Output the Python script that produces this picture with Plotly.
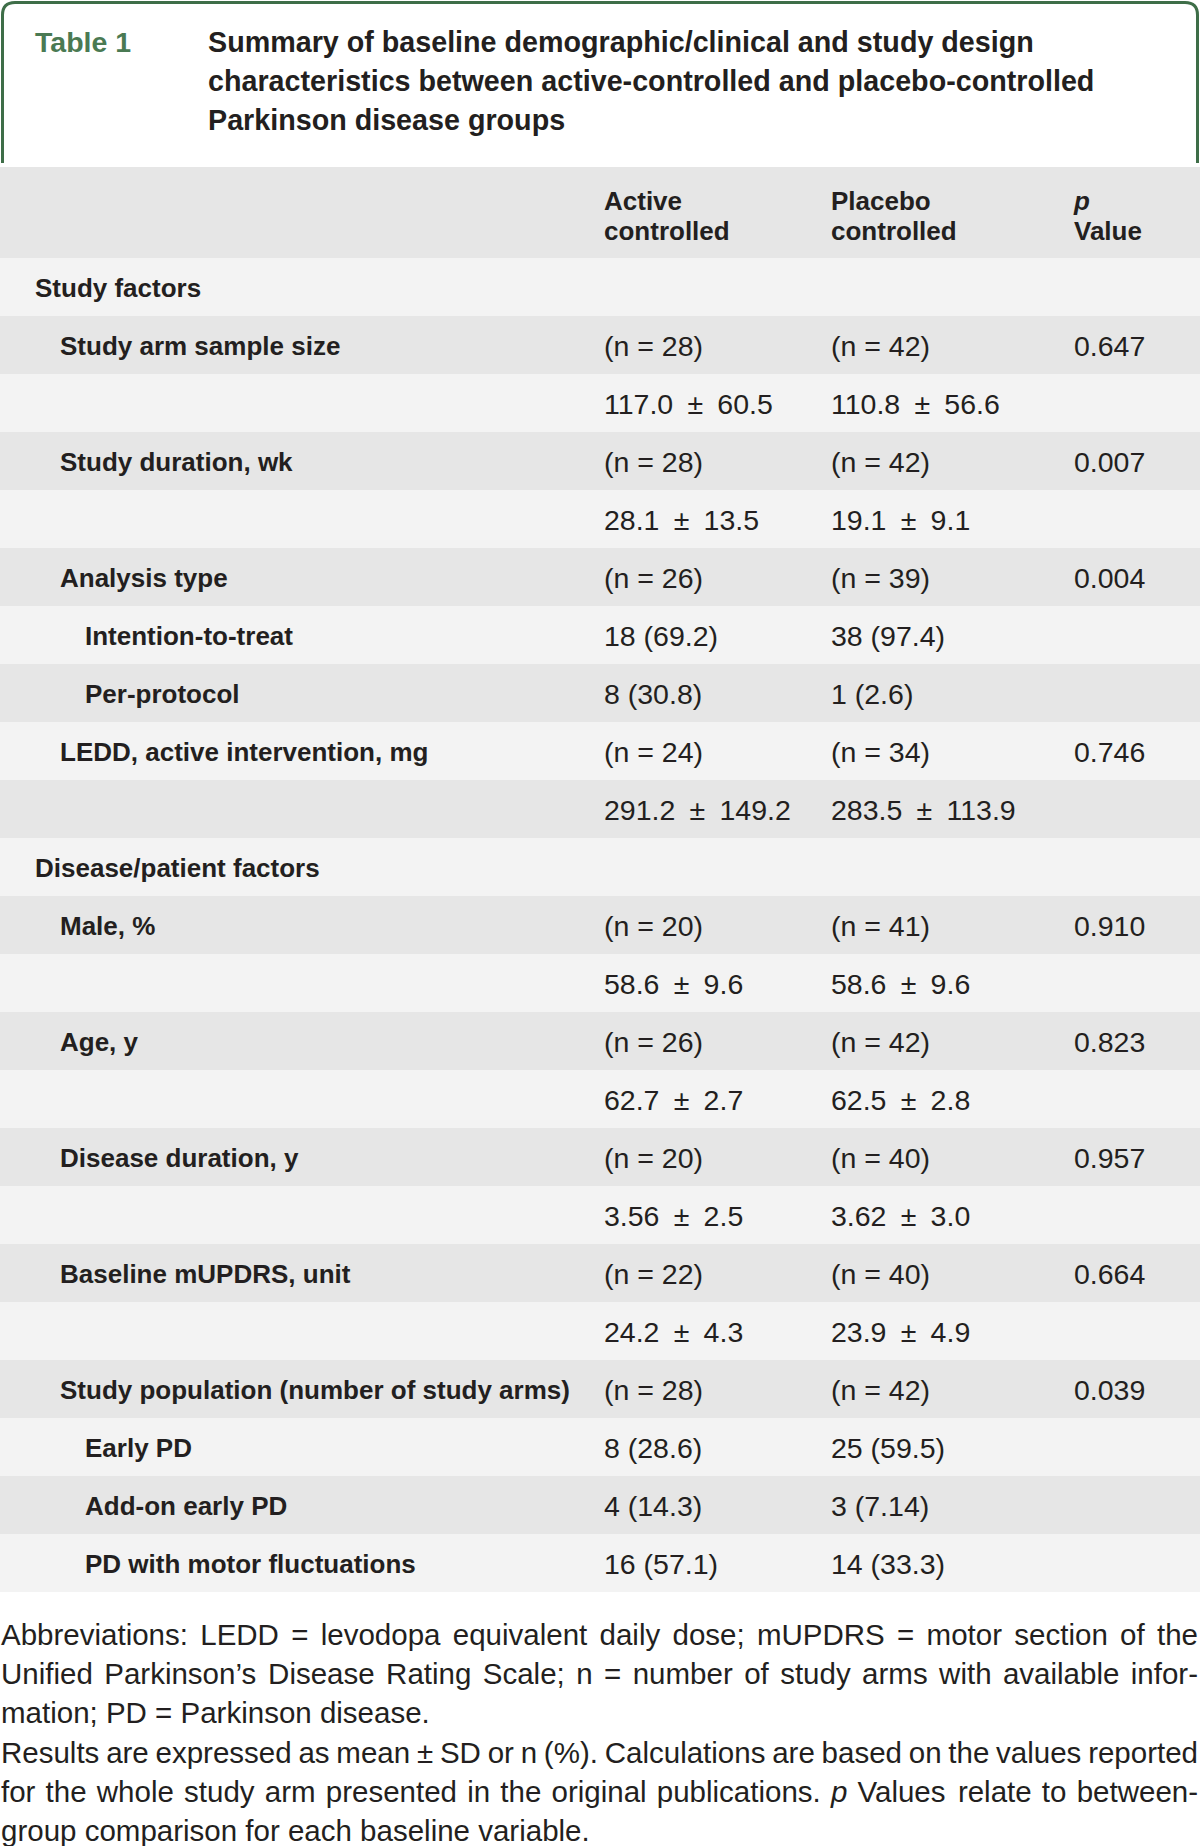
import re
import plotly.graph_objects as go

# ---------------- data ----------------
title_label = "Table 1"
title_lines = [
    "Summary of baseline demographic/clinical and study design",
    "characteristics between active-controlled and placebo-controlled",
    "Parkinson disease groups",
]
header_active = ["Active", "controlled"]
header_placebo = ["Placebo", "controlled"]
header_p = ["<i>p</i>", "Value"]

row_labels = [
    "Study factors",
    "Study arm sample size",
    "",
    "Study duration, wk",
    "",
    "Analysis type",
    "Intention-to-treat",
    "Per-protocol",
    "LEDD, active intervention, mg",
    "",
    "Disease/patient factors",
    "Male, %",
    "",
    "Age, y",
    "",
    "Disease duration, y",
    "",
    "Baseline mUPDRS, unit",
    "",
    "Study population (number of study arms)",
    "Early PD",
    "Add-on early PD",
    "PD with motor fluctuations",
]
row_levels = [0, 1, 1, 1, 1, 1, 2, 2, 1, 1, 0, 1, 1, 1, 1, 1, 1, 1, 1, 1, 2, 2, 2]
active_vals = [
    "", "(n = 28)", "117.0 ± 60.5", "(n = 28)", "28.1 ± 13.5", "(n = 26)",
    "18 (69.2)", "8 (30.8)", "(n = 24)", "291.2 ± 149.2", "", "(n = 20)",
    "58.6 ± 9.6", "(n = 26)", "62.7 ± 2.7", "(n = 20)", "3.56 ± 2.5",
    "(n = 22)", "24.2 ± 4.3", "(n = 28)", "8 (28.6)", "4 (14.3)", "16 (57.1)",
]
placebo_vals = [
    "", "(n = 42)", "110.8 ± 56.6", "(n = 42)", "19.1 ± 9.1", "(n = 39)",
    "38 (97.4)", "1 (2.6)", "(n = 34)", "283.5 ± 113.9", "", "(n = 41)",
    "58.6 ± 9.6", "(n = 42)", "62.5 ± 2.8", "(n = 40)", "3.62 ± 3.0",
    "(n = 40)", "23.9 ± 4.9", "(n = 42)", "25 (59.5)", "3 (7.14)", "14 (33.3)",
]
p_vals = [
    "", "0.647", "", "0.007", "", "0.004", "", "", "0.746", "", "", "0.910",
    "", "0.823", "", "0.957", "", "0.664", "", "0.039", "", "", "",
]
footnote_lines = [
    "Abbreviations: LEDD = levodopa equivalent daily dose; mUPDRS = motor section of the",
    "Unified Parkinson’s Disease Rating Scale; n = number of study arms with available infor-",
    "mation; PD = Parkinson disease.",
    "Results are expressed as mean ± SD or n (%). Calculations are based on the values reported",
    "for the whole study arm presented in the original publications. <i>p</i> Values relate to between-",
    "group comparison for each baseline variable.",
]
footnote_justified = [True, True, False, True, True, False]

# ---------------- layout constants ----------------
W, H = 1200, 1846
GREEN = "#3e6e48"
TEXT = "#231f20"
DARK = "#e6e6e6"
LIGHT = "#f3f3f3"
FONT = "Liberation Sans, Arial, sans-serif"

HEAD_TOP, HEAD_BOT = 167, 258
ROW_H = 58
DY = 3.5  # baseline nudge for visual centring of text
LABEL_X = [35, 60, 85]
COL_X = [604, 831, 1074]
FOOT_SIZE = 29.5
FOOT_Y0, FOOT_DY = 1634, 39.3

# Arial / Liberation Sans advance widths (per 1000 em) for justification
_W = {" ": 278, "(": 333, ")": 333, ",": 278, "-": 333, ".": 278, "/": 278,
      ":": 278, ";": 278, "=": 584, "±": 549, "%": 889, "’": 222}
for c in "0123456789":
    _W[c] = 556
_W.update(dict(zip("ABCDEFGHIJKLMNOPQRSTUVWXYZ",
                   [667, 667, 722, 722, 667, 611, 778, 722, 278, 500, 667, 556, 833,
                    722, 778, 667, 778, 722, 667, 611, 722, 667, 944, 667, 667, 611])))
_W.update(dict(zip("abcdefghijklmnopqrstuvwxyz",
                   [556, 556, 500, 556, 556, 278, 556, 556, 222, 222, 500, 222, 833,
                    556, 556, 556, 556, 333, 500, 278, 556, 500, 722, 500, 500, 500])))


def text_width(s, size):
    plain = re.sub(r"<[^>]+>", "", s)
    return sum(_W.get(ch, 556) for ch in plain) * size / 1000.0


def widen_pm(s):
    # the source typesetting leaves wider gaps around the ± sign
    return s.replace(" ± ", "\u2002±\u2002")


fig = go.Figure()
shapes = []

# title box border
shapes.append(dict(
    type="path",
    path="M 2.5,163 L 2.5,15 Q 2.5,2.5 15,2.5 L 1185,2.5 Q 1197.5,2.5 1197.5,15 L 1197.5,163",
    line=dict(color=GREEN, width=3), xref="x", yref="y", layer="above",
))
# header background
shapes.append(dict(type="rect", x0=0, x1=W, y0=HEAD_TOP, y1=HEAD_BOT,
                   fillcolor=DARK, line=dict(width=0), xref="x", yref="y", layer="below"))
# row backgrounds
for i in range(len(row_labels)):
    y0 = HEAD_BOT + i * ROW_H
    shapes.append(dict(type="rect", x0=0, x1=W, y0=y0, y1=y0 + ROW_H,
                       fillcolor=LIGHT if i % 2 == 0 else DARK,
                       line=dict(width=0), xref="x", yref="y", layer="below"))

# title texts
fig.add_trace(go.Scatter(
    x=[35], y=[41 + DY], text=[title_label], mode="text", textposition="middle right",
    textfont=dict(family=FONT, size=28.5, color="#4a7a53", weight="bold"), hoverinfo="skip"))
fig.add_trace(go.Scatter(
    x=[208] * len(title_lines), y=[41 + DY + 39 * k for k in range(len(title_lines))],
    text=title_lines, mode="text", textposition="middle right",
    textfont=dict(family=FONT, size=28.7, color=TEXT, weight="bold"), hoverinfo="skip"))

# header texts
hx, hy, ht = [], [], []
for col, lines in zip(COL_X, [header_active, header_placebo, header_p]):
    for k, t in enumerate(lines):
        hx.append(col)
        hy.append(200 + DY + 30 * k)
        ht.append(t)
fig.add_trace(go.Scatter(
    x=hx, y=hy, text=ht, mode="text", textposition="middle right",
    textfont=dict(family=FONT, size=26, color=TEXT, weight="bold"), hoverinfo="skip"))

# row labels
ys = [HEAD_BOT + i * ROW_H + ROW_H / 2 + DY for i in range(len(row_labels))]
fig.add_trace(go.Scatter(
    x=[LABEL_X[l] for l in row_levels], y=ys, text=row_labels, mode="text",
    textposition="middle right",
    textfont=dict(family=FONT, size=26, color=TEXT, weight="bold"), hoverinfo="skip"))

# value columns
for col, vals in zip(COL_X, [active_vals, placebo_vals, p_vals]):
    fig.add_trace(go.Scatter(
        x=[col] * len(vals), y=ys, text=[widen_pm(v) for v in vals], mode="text",
        textposition="middle right",
        textfont=dict(family=FONT, size=28.5, color=TEXT), hoverinfo="skip"))

# footnotes (justified lines are laid out word by word)
fx, fy, ft = [], [], []
for k, (line, just) in enumerate(zip(footnote_lines, footnote_justified)):
    y = FOOT_Y0 + DY + FOOT_DY * k
    if not just:
        fx.append(1)
        fy.append(y)
        ft.append(line)
        continue
    words = line.split(" ")
    widths = [text_width(wd, FOOT_SIZE) for wd in words]
    gap = (W - 2 - 1 - sum(widths)) / (len(words) - 1)
    x = 1
    for wd, wdt in zip(words, widths):
        fx.append(x)
        fy.append(y)
        ft.append(wd)
        x += wdt + gap
fig.add_trace(go.Scatter(
    x=fx, y=fy, text=ft, mode="text", textposition="middle right",
    textfont=dict(family=FONT, size=FOOT_SIZE, color=TEXT), hoverinfo="skip"))

fig.update_layout(
    width=W, height=H, margin=dict(l=0, r=0, t=0, b=0),
    paper_bgcolor="white", plot_bgcolor="white", showlegend=False,
    shapes=shapes,
    xaxis=dict(range=[0, W], visible=False, fixedrange=True),
    yaxis=dict(range=[H, 0], visible=False, fixedrange=True),
)
fig.write_html("out.html", config={"displayModeBar": False})

# remove the default page margin so the figure sits at the window's corner
with open("out.html", "r", encoding="utf-8") as fh:
    html = fh.read()
html = html.replace("<body>", '<body style="margin:0;padding:0;overflow:hidden">', 1)
with open("out.html", "w", encoding="utf-8") as fh:
    fh.write(html)
